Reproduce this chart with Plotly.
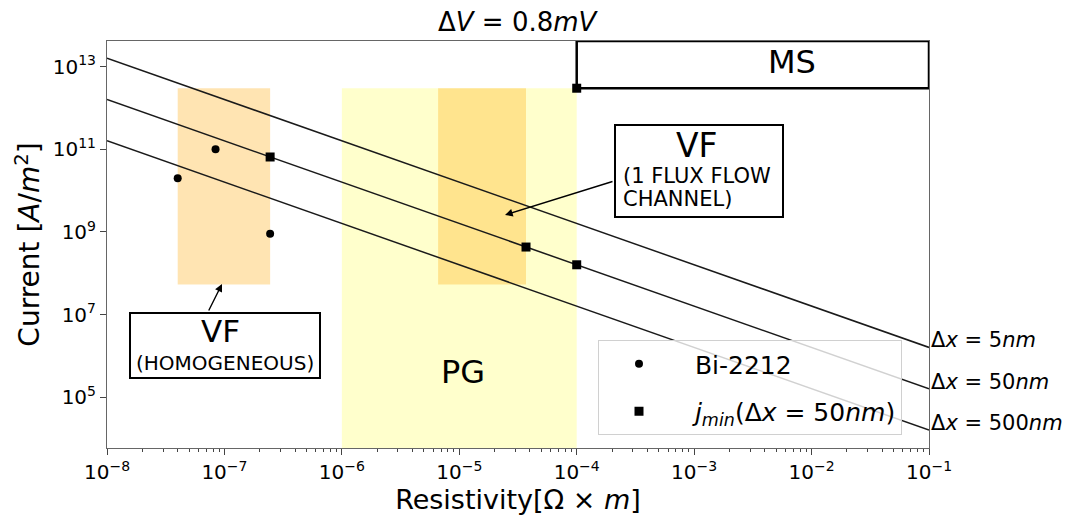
import numpy as np
import plotly.graph_objects as go

# ---- data ----
delta_v = 0.8e-3                      # V
dx_nm = [5, 50, 500]                  # flux-flow channel widths
rho_span = [1e-8, 1e-1]               # resistivity range of the guide lines

bi2212_rho = [4.0e-8, 8.4e-8, 2.45e-7]
bi2212_j = [2.0e10, 1.0e11, 9.0e8]

jmin_rho = [2.45e-7, 3.7e-5, 1.0e-4, 1.0e-4]
jmin_j = [6.5e10, 4.3e8, 1.6e8, 3.0e12]

# shaded regions: (rho_lo, rho_hi, j_lo, j_hi)
region_vf_homog = (4.0e-8, 2.45e-7, 5.3e7, 3.0e12)
region_pg = (1.0e-6, 1.0e-4, 10**3.77, 3.0e12)
region_vf_channel = (6.6e-6, 3.7e-5, 5.3e7, 3.0e12)
region_ms = (1.0e-4, 1.0e-1, 3.0e12, 10**13.62)

x_exponents = [-8, -7, -6, -5, -4, -3, -2, -1]
y_exponents = [5, 7, 9, 11, 13]
x_range = [-8, -1]
y_range = [3.77, 13.62]

FONT = "DejaVu Sans"
W, H = 1082, 517
L, R, T, B = 107, 153, 41, 69
PW, PH = W - L - R, H - T - B


def px(x):
    return (x - L) / PW


def py(y):
    return (H - B - y) / PH


def pow_label(e):
    return "10<sup>" + str(e).replace("-", "\u2212") + "</sup>"


fig = go.Figure()

# shaded regimes
fig.add_shape(type="rect", xref="x", yref="y",
              x0=region_vf_homog[0], x1=region_vf_homog[1],
              y0=region_vf_homog[2], y1=region_vf_homog[3],
              fillcolor="rgba(255,165,0,0.3)", line_width=0, layer="below")
fig.add_shape(type="rect", xref="x", yref="y",
              x0=region_pg[0], x1=region_pg[1], y0=region_pg[2], y1=region_pg[3],
              fillcolor="rgba(255,255,0,0.2)", line_width=0, layer="below")
fig.add_shape(type="rect", xref="x", yref="y",
              x0=region_vf_channel[0], x1=region_vf_channel[1],
              y0=region_vf_channel[2], y1=region_vf_channel[3],
              fillcolor="rgba(255,165,0,0.3)", line_width=0, layer="below")
fig.add_shape(type="rect", xref="x", yref="y",
              x0=region_ms[0], x1=region_ms[1], y0=region_ms[2], y1=region_ms[3],
              fillcolor="rgba(0,0,0,0)", line=dict(color="black", width=2.5))

# constant-voltage lines j = dV / (rho * dx)
rho_line = np.array(rho_span)
for dx in dx_nm:
    j_line = delta_v / (rho_line * dx * 1e-9)
    fig.add_trace(go.Scatter(x=rho_line, y=j_line, mode="lines",
                             line=dict(color="#1a1a1a", width=1.5),
                             showlegend=False, hoverinfo="skip"))
    fig.add_annotation(x=1.0, xref="paper", y=np.log10(j_line[-1]), yref="y",
                       text=f"Δ<i>x</i> = {dx}<i>nm</i>", showarrow=False,
                       xanchor="left", yanchor="middle", yshift=7,
                       font=dict(size=21, color="black", family=FONT))

fig.add_trace(go.Scatter(x=bi2212_rho, y=bi2212_j, mode="markers",
                         marker=dict(symbol="circle", size=8, color="black"),
                         name="\u00a0\u00a0Bi-2212", legendgroup="a"))
fig.add_trace(go.Scatter(x=jmin_rho, y=jmin_j, mode="markers",
                         marker=dict(symbol="square", size=9, color="black"),
                         name="\u00a0\u00a0<i>j</i><sub><i>min</i></sub>(Δ<i>x</i> = 50<i>nm</i>)",
                         legendgroup="b"))

# text boxes
def box(x0, y0, x1, y1):
    fig.add_shape(type="rect", xref="paper", yref="paper",
                  x0=px(x0), x1=px(x1), y0=py(y1), y1=py(y0),
                  fillcolor="white", line=dict(color="black", width=2))


def label(x, y, text, size, anchor="center"):
    fig.add_annotation(x=px(x), y=py(y), xref="paper", yref="paper", text=text,
                       showarrow=False, xanchor=anchor, yanchor="middle",
                       font=dict(size=size, color="black", family=FONT))


def arrow(hx, hy, tx, ty):
    fig.add_annotation(x=px(hx), y=py(hy), xref="paper", yref="paper", text="",
                       showarrow=True, ax=tx - hx, ay=ty - hy,
                       arrowhead=2, arrowsize=1.1, arrowwidth=1.4, arrowcolor="black")


box(130, 313, 320, 378)
label(220, 331, "VF", 31)
label(225, 363, "(HOMOGENEOUS)", 20)
arrow(222, 284, 208, 312)

box(615, 125, 783, 217)
label(697, 145, "VF", 33)
label(621, 176, "(1 FLUX FLOW", 21, "left")
label(621, 199, "CHANNEL)", 21, "left")
arrow(505, 215, 614, 181)

label(792, 62, "MS", 32)
label(463, 372, "PG", 32)

fig.add_annotation(x=0.5, y=py(22), xref="paper", yref="paper",
                   text="Δ<i>V</i> = 0.8<i>mV</i>", showarrow=False,
                   xanchor="center", yanchor="middle",
                   font=dict(size=26, color="black", family=FONT))

x_minor = [m * 10.0**e for e in range(-8, -1) for m in range(2, 10)]

fig.update_layout(
    width=W, height=H,
    margin=dict(l=L, r=R, t=T, b=B, autoexpand=False),
    plot_bgcolor="white", paper_bgcolor="white",
    font=dict(family=FONT, color="black"),
    xaxis=dict(type="log", range=x_range, showgrid=False, zeroline=False,
               showline=True, linecolor="#666", linewidth=1, mirror=True,
               ticks="outside", ticklen=6, tickcolor="#444",
               tickvals=[10.0**e for e in x_exponents],
               ticktext=[pow_label(e) for e in x_exponents],
               tickfont=dict(size=20),
               minor=dict(ticks="outside", ticklen=3, tickcolor="#444",
                          tickvals=x_minor),
               title=dict(text="Resistivity[Ω × <i>m</i>]", font=dict(size=27),
                          standoff=6)),
    yaxis=dict(type="log", range=y_range, showgrid=False, zeroline=False,
               showline=True, linecolor="#666", linewidth=1, mirror=True,
               ticks="outside", ticklen=6, tickcolor="#444",
               tickvals=[10.0**e for e in y_exponents],
               ticktext=[pow_label(e) for e in y_exponents],
               tickfont=dict(size=20),
               title=dict(text="Current [<i>A</i>/<i>m</i><sup>2</sup>]",
                          font=dict(size=28), standoff=4)),
    legend=dict(x=px(598), y=py(340), xanchor="left", yanchor="top",
                bgcolor="rgba(255,255,255,0.8)", bordercolor="#d0d0d0",
                borderwidth=1, font=dict(size=25), itemwidth=70,
                traceorder="grouped", tracegroupgap=12),
)

fig.write_html("out.html")
